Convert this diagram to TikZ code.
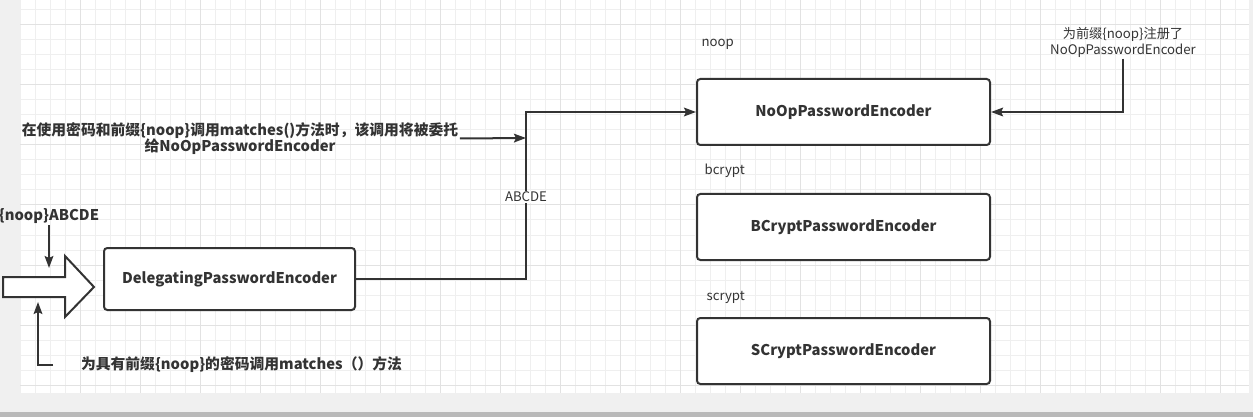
\documentclass[tikz,border=0pt]{standalone}
\usepackage{fontspec}
\setmainfont{Noto Sans CJK SC}
\usetikzlibrary{arrows.meta}
\definecolor{ink}{HTML}{333333}
\definecolor{gridminor}{HTML}{EFEFEF}
\definecolor{gridmajor}{HTML}{E2E2E2}
\definecolor{pageback}{HTML}{F0F0F0}
\tikzset{
  encbox/.style={draw=ink, line width=1.5pt, rounded corners=2.5pt, fill=white,
    minimum width=219.75pt, minimum height=49.5pt, inner sep=0pt,
    font=\bfseries\fontsize{11.1}{12}\selectfont, text=ink},
  boldnote/.style={font=\bfseries\fontsize{11.1}{12.5}\selectfont, text=ink, align=center, inner sep=1pt},
  plainnote/.style={font=\fontsize{9.9}{12}\selectfont, text=ink, align=center, inner sep=1pt},
  arr/.style={draw=ink, line width=1.5pt, -{Stealth[length=9pt, width=6.5pt, inset=1.5pt]}},
  wire/.style={draw=ink, line width=1.5pt}
}
\begin{document}
\begin{tikzpicture}[x=0.75pt, y=-0.75pt]
        \useasboundingbox (0,0) rectangle (1253,417);
        % page and grid
        \fill[pageback] (0,0) rectangle (1253,417);
        \fill[white] (20,0) rectangle (1249,393);
        \fill[gray!55] (0,412) rectangle (1253,417);
        \foreach \gx in {20.7,35.7,...,1240}
          \draw[gridminor, line width=0.75pt] (\gx,0) -- (\gx,393);
        \foreach \gy in {10,25,...,390}
          \draw[gridminor, line width=0.75pt] (20,\gy) -- (1249,\gy);
        \foreach \gx in {80.7,140.7,...,1240}
          \draw[gridmajor, line width=0.75pt] (\gx,0) -- (\gx,393);
        \foreach \gy in {25,85,...,390}
          \draw[gridmajor, line width=0.75pt] (20,\gy) -- (1249,\gy);
        % encoders
        \node[encbox] (noop) at (843.5,112) {NoOpPasswordEncoder};
        \node[encbox] (bcrypt) at (843.5,227) {BCryptPasswordEncoder};
        \node[encbox] (scrypt) at (843.5,351) {SCryptPasswordEncoder};
        \node[encbox, minimum width=188.25pt, minimum height=46.5pt] (deleg) at (229.5,279) {DelegatingPasswordEncoder};
        \node[plainnote, anchor=west] (noopkey) at (700,44) {noop};
        \node[plainnote, anchor=west] (bcryptkey) at (703,171) {bcrypt};
        \node[plainnote, anchor=west] (scryptkey) at (705,297) {scrypt};
        % input arrow
        \draw[draw=ink, line width=1.5pt, fill=white]
          (3,277) -- (65,277) -- (65,256) -- (94,287) -- (65,317) -- (65,297) -- (3,297) -- cycle;
        \node[boldnote] (inlabel) at (49,216) {\{noop\}ABCDE};
        \coordinate (downtip) at (49,268);
        \draw[arr] (inlabel.south) -- (downtip);
        \node[boldnote] (call) at (241.5,365) {为具有前缀\{noop\}的密码调用matches（）方法};
        \coordinate (upfoot) at (53,365);
        \coordinate (uptip) at (38,302);
        \draw[arr] (upfoot) -| (uptip);
        % delegation
        \coordinate (junction) at (526,138);
        \draw[arr] (deleg.east) -| (junction) |- (noop.west);
        \node[plainnote, fill=white] (passlabel) at (526,197) {ABCDE};
        \node[boldnote] (hint) at (240,138.5) {在使用密码和前缀\{noop\}调用matches()方法时，该调用将被委托\\给NoOpPasswordEncoder};
        \draw[arr] (hint.east) -- (junction);
        % registration
        \node[plainnote] (reg) at (1123,42) {为前缀\{noop\}注册了\\NoOpPasswordEncoder};
        \draw[arr] (reg.south) |- (noop.east);
\end{tikzpicture}
\end{document}
